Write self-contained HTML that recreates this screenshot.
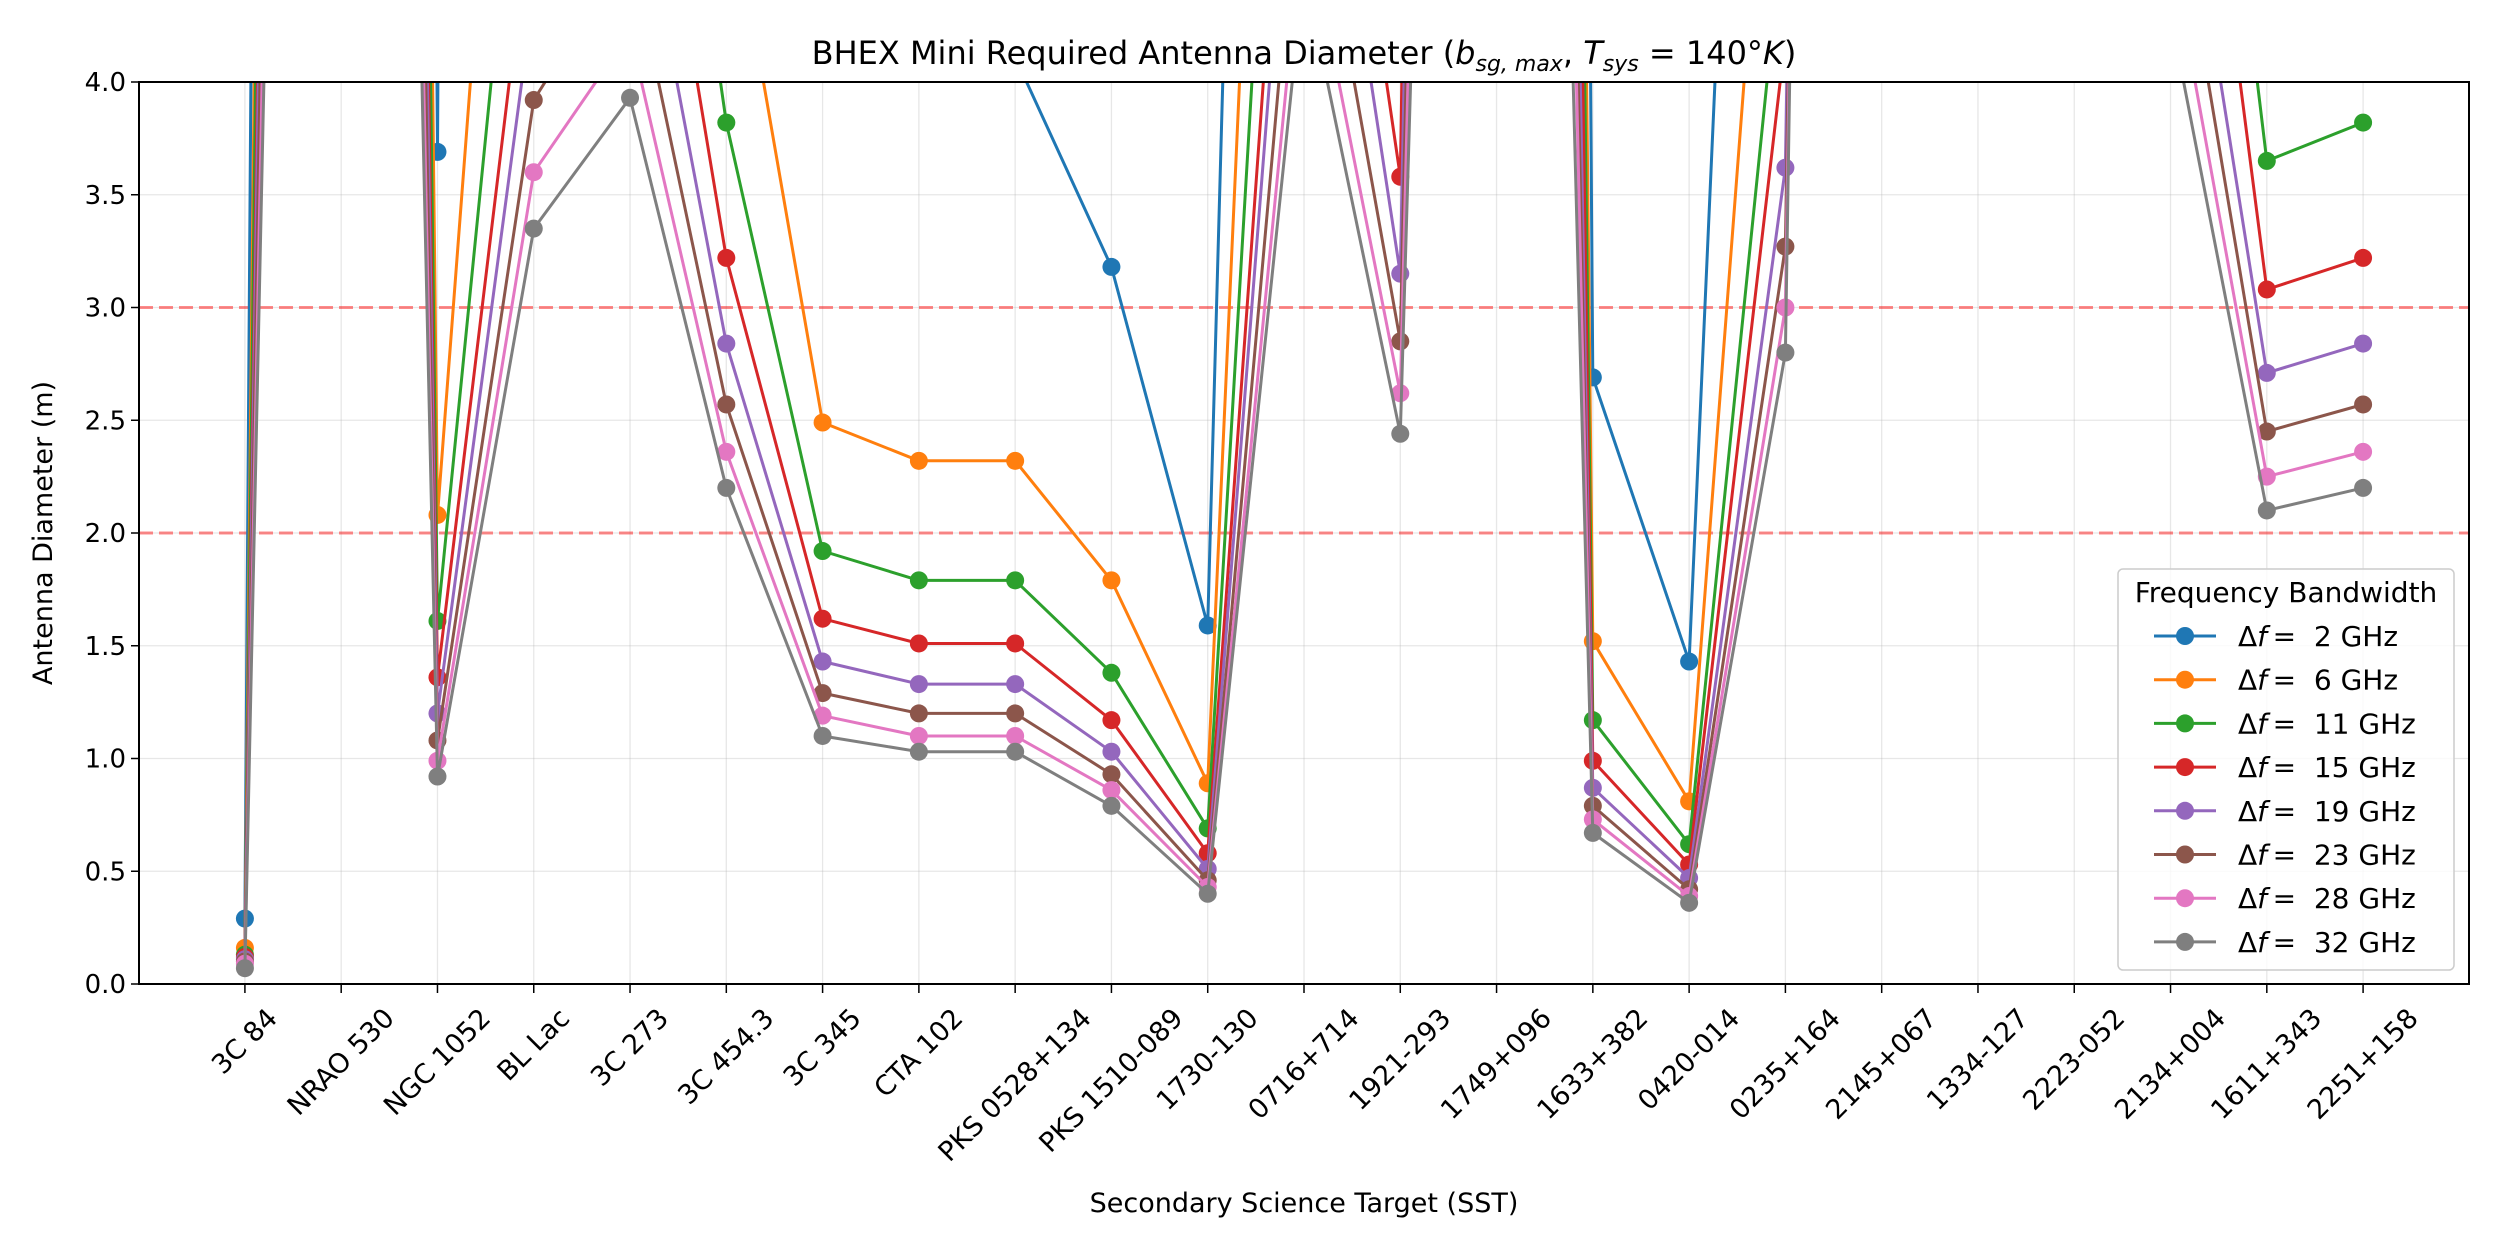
<!DOCTYPE html>
<html><head><meta charset="utf-8">
<style>
html,body{margin:0;padding:0;background:#fff;}
svg{display:block;font-family:"DejaVu Sans","Liberation Sans",sans-serif;}
</style></head>
<body>
<svg id="chart" width="2500" height="1250" viewBox="0 0 2500 1250" xmlns="http://www.w3.org/2000/svg">
<rect width="2500" height="1250" fill="#fff"/>
<defs><clipPath id="plotclip"><rect x="139" y="82" width="2330" height="902"/></clipPath></defs>
<text x="1304" y="64" font-size="32" text-anchor="middle">BHEX Mini Required Antenna Diameter (<tspan font-style="italic">b</tspan><tspan font-style="italic" font-size="22" dy="7">sg, max</tspan><tspan dy="-7">, </tspan><tspan font-style="italic">T</tspan><tspan font-style="italic" font-size="22" dy="7">sys</tspan><tspan dy="-7"> = 140°</tspan><tspan font-style="italic">K</tspan>)</text>
<g id="grid"></g>
<g id="refs"></g>
<g id="series" clip-path="url(#plotclip)"></g>
<rect x="139" y="82" width="2330" height="902" fill="none" stroke="#000" stroke-width="2"/>
<g id="axes"></g>
<text x="0" y="0" font-size="27" text-anchor="middle" transform="translate(52,533) rotate(-90)">Antenna Diameter (m)</text>
<text x="1304" y="1212" font-size="27" text-anchor="middle">Secondary Science Target (SST)</text>
<g id="legend"></g>
</svg>
<script>
const categories = ["3C 84","NRAO 530","NGC 1052","BL Lac","3C 273","3C 454.3","3C 345","CTA 102","PKS 0528+134","PKS 1510-089","1730-130","0716+714","1921-293","1749+096","1633+382","0420-014","0235+164","2145+067","1334-127","2223-052","2134+004","1611+343","2251+158"];
const seriesLabels = ["2 GHz","6 GHz","11 GHz","15 GHz","19 GHz","23 GHz","28 GHz","32 GHz"];
const seriesColors = ["#1f77b4","#ff7f0e","#2ca02c","#d62728","#9467bd","#8c564b","#e377c2","#7f7f7f"];
const bw2  = [0.29,60,3.69,80,100,20,10,6,4.11,3.18,1.59,17,12,60,2.69,1.43,11,30,30,30,12,10,10];
const bw6  = [0.16,40,2.08,7.7,8,4.95,2.49,2.32,2.32,1.79,0.89,10.3,7,40,1.52,0.81,6.4,30,30,30,9,6,6.2];
const bw11 = [0.13,35,1.61,5.9,6.8,3.82,1.92,1.79,1.79,1.38,0.69,7.9,5,35,1.17,0.62,4.8,30,30,30,7.2,3.65,3.82];
const bw15 = [0.12,30,1.36,4.9,5.8,3.22,1.62,1.51,1.51,1.17,0.58,6.5,3.58,30,0.99,0.53,4.2,30,30,30,6.4,3.08,3.22];
const bw19 = [0.11,28,1.20,4.4,5.1,2.84,1.43,1.33,1.33,1.03,0.51,5.95,3.15,25,0.87,0.47,3.62,30,30,30,5.4,2.71,2.84];
const bw23 = [0.10,25,1.08,3.92,4.6,2.57,1.29,1.20,1.20,0.93,0.46,5.25,2.85,22,0.79,0.42,3.27,30,30,30,5.0,2.45,2.57];
const bw28 = [0.09,22,0.99,3.60,4.22,2.36,1.19,1.10,1.10,0.86,0.43,4.78,2.62,20,0.73,0.39,3.00,30,30,30,4.6,2.25,2.36];
const bw32 = [0.07,20,0.92,3.35,3.93,2.20,1.10,1.03,1.03,0.79,0.40,4.5,2.44,17,0.67,0.36,2.80,30,30,30,4.3,2.10,2.20];
const seriesValues = [bw2,bw6,bw11,bw15,bw19,bw23,bw28,bw32];
const yTicks = [0,0.5,1,1.5,2,2.5,3,3.5,4];
const refLevels = [2,3];

const NS="http://www.w3.org/2000/svg";
const L=139,R=2469,T=82,B=984;
const xMin=-1.1,xMax=categories.length-1+1.1,yMin=0,yMax=4;
function xScale(i){return L+(i-xMin)/(xMax-xMin)*(R-L);}
function yScale(v){return B-(v-yMin)/(yMax-yMin)*(B-T);}
function mk(tag,attrs,parent){const e=document.createElementNS(NS,tag);for(const k in attrs)e.setAttribute(k,attrs[k]);parent.appendChild(e);return e;}

const grid=document.getElementById('grid'),axes=document.getElementById('axes'),refs=document.getElementById('refs');
yTicks.forEach(t=>{
  const y=yScale(t);
  const g=mk('line',{x1:L,x2:R,y1:y,y2:y,stroke:'#b0b0b0','stroke-opacity':0.3,'stroke-width':1.3},grid);
  
  
  const tk=mk('line',{x1:L-8,x2:L,y1:y,y2:y,stroke:'#000','stroke-width':1.5},axes);
  
  
  const tx=mk('text',{x:L-13,y:y+9,'font-size':26,'text-anchor':'end'},axes);
  tx.textContent=t.toFixed(1);
  
  
});
categories.forEach((c,i)=>{
  const x=xScale(i);
  const g=mk('line',{x1:x,x2:x,y1:T,y2:B,stroke:'#b0b0b0','stroke-opacity':0.3,'stroke-width':1.3},grid);
  
  
  const tk=mk('line',{x1:x,x2:x,y1:B,y2:B+9,stroke:'#000','stroke-width':1.5},axes);
  
  
  const tx=mk('text',{x:0,y:0,'font-size':27,'text-anchor':'middle','dominant-baseline':'central'},axes);
  tx.textContent=c;
  
  
  const w=tx.getComputedTextLength(),h=22;
  const bh=(w+h)*Math.SQRT1_2;
  tx.setAttribute('transform','translate('+x+','+(B+22+bh/2)+') rotate(-45)');
});
refLevels.forEach(v=>{
  const y=yScale(v);
  const l=mk('line',{x1:L,x2:R,y1:y,y2:y,stroke:'#ff0000','stroke-opacity':0.45,'stroke-width':3,'stroke-dasharray':'14,6'},refs);
  
  
});

const sg=document.getElementById('series');
seriesValues.forEach((vals,s)=>{
  const g=mk('g',{},sg);
  
  
  let d='';
  vals.forEach((v,i)=>{ if(v==null)return; d+=(d?'L':'M')+xScale(i).toFixed(1)+','+yScale(v).toFixed(1);});
  const p=mk('path',{d:d,fill:'none',stroke:seriesColors[s],'stroke-width':3,'stroke-linejoin':'round'},g);
  
  
  vals.forEach((v,i)=>{
    if(v==null||v>4.3)return;
    const c=mk('circle',{cx:xScale(i),cy:yScale(v),r:9,fill:seriesColors[s]},g);
    
    
  });
});

const lg=document.getElementById('legend');
const bx=mk('rect',{x:2118,y:569,width:336,height:401,rx:5,fill:'#fff','fill-opacity':0.8,stroke:'#cccccc','stroke-width':1.5},lg);


const lt=mk('text',{x:2286,y:602,'font-size':28,'text-anchor':'middle'},lg);
lt.textContent='Frequency Bandwidth';


seriesLabels.forEach((lab,s)=>{
  const y=636+s*43.7;
  const e=mk('g',{},lg);
  
  
  mk('line',{x1:2154,x2:2216,y1:y,y2:y,stroke:seriesColors[s],'stroke-width':3},e);
  mk('circle',{cx:2185,cy:y,r:9,fill:seriesColors[s]},e);
  const t=mk('text',{x:2238,y:y+10,'font-size':28},e);
  const a=mk('tspan',{},t); a.textContent='Δ';
  const b=mk('tspan',{'font-style':'italic'},t); b.textContent='f';
  const c=mk('tspan',{},t); c.textContent='\u2009=\u00a0\u00a0'+lab;
});
</script>
</body></html>
